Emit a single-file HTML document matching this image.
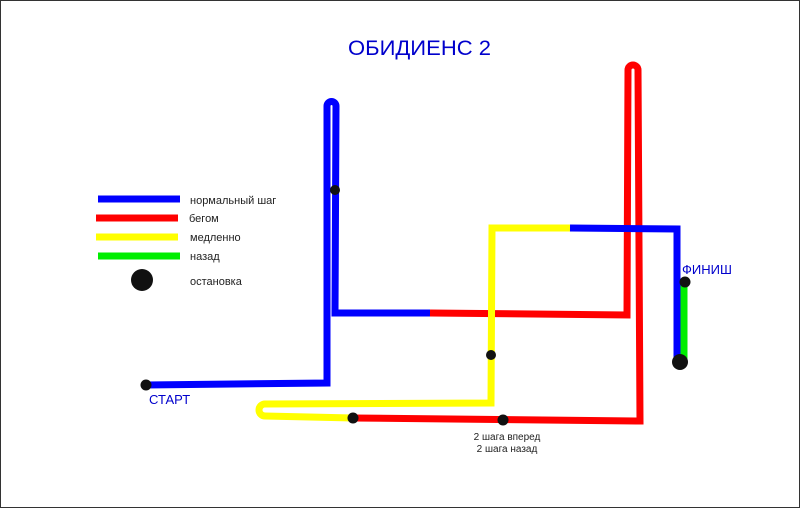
<!DOCTYPE html>
<html><head><meta charset="utf-8"><style>
html,body{margin:0;padding:0;background:#fff;}
svg{display:block;font-family:"Liberation Sans",sans-serif;}
</style></head><body>
<svg width="800" height="508" viewBox="0 0 800 508">
<rect x="0.5" y="0.5" width="799" height="507" fill="#fff" stroke="#333" stroke-width="1"/>
<text x="348" y="55" font-size="21" fill="#0000cc" textLength="143" lengthAdjust="spacingAndGlyphs">ОБИДИЕНС 2</text>
<g fill="none" stroke-width="7" stroke-linejoin="miter">
<path d="M146,385 L327,383 L327,106 A4.5,4.5 0 0 1 336,106 L335,313 L430,313" stroke="#0000ff"/>
<path d="M430,313 L627,315 L628,70 A5,5 0 0 1 638,70 L640,421 L353,418" stroke="#ff0000"/>
<path d="M353,418 L265,416 A6,6 0 0 1 265,404 L491,403 L492,228 L570,228" stroke="#ffff00"/>
<path d="M570,228 L677,229 L677,360" stroke="#0000ff"/>
<path d="M684,283 L684,360" stroke="#00ee00"/>
</g>
<g fill="#111">
<circle cx="335" cy="190" r="5"/><circle cx="491" cy="355" r="5"/>
<circle cx="353" cy="418" r="5.5"/><circle cx="503" cy="420" r="5.5"/>
<circle cx="146" cy="385" r="5.5"/><circle cx="685" cy="282" r="5.5"/>
<circle cx="680" cy="362" r="8"/><circle cx="142" cy="280" r="11"/>
</g>
<g stroke-width="7">
<line x1="98" y1="199" x2="180" y2="199" stroke="#0000ff"/>
<line x1="96" y1="218" x2="178" y2="218" stroke="#ff0000"/>
<line x1="96" y1="237" x2="178" y2="237" stroke="#ffff00"/>
<line x1="98" y1="256" x2="180" y2="256" stroke="#00ee00"/>
</g>
<g font-size="11" fill="#222">
<text x="190" y="204">нормальный шаг</text>
<text x="189" y="222">бегом</text>
<text x="190" y="241">медленно</text>
<text x="190" y="260">назад</text>
<text x="190" y="285">остановка</text>
<text x="507" y="440" text-anchor="middle" font-size="10">2 шага вперед</text>
<text x="507" y="452" text-anchor="middle" font-size="10">2 шага назад</text>
</g>
<text x="149" y="404" font-size="13" fill="#0000cc">СТАРТ</text>
<text x="682" y="274" font-size="13" fill="#0000cc">ФИНИШ</text>
</svg>
</body></html>
